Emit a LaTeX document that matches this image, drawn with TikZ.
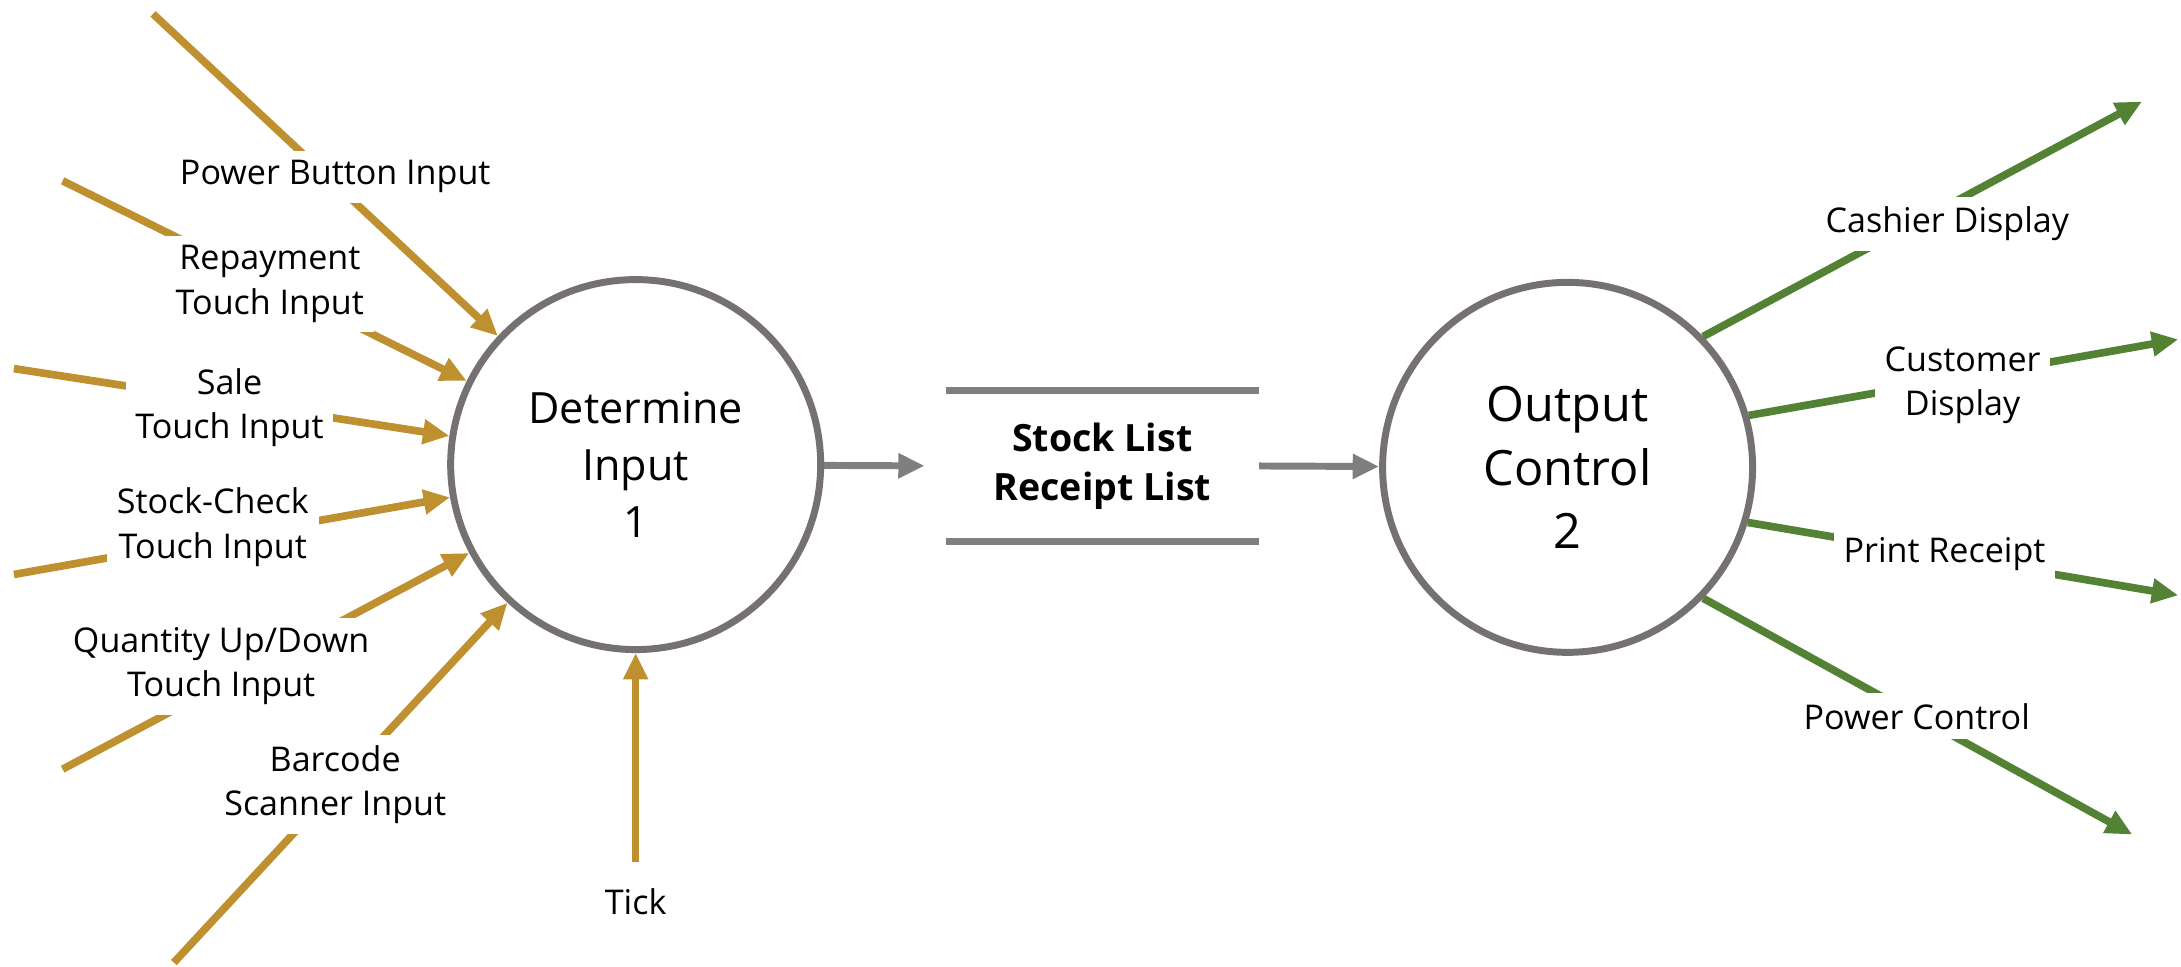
\documentclass[tikz,border=0pt]{standalone}
\usepackage{fontspec}
\setmainfont{Open Sans}
\usetikzlibrary{arrows.meta}
\definecolor{goldc}{HTML}{BF9030}
\definecolor{greenc}{HTML}{548235}
\definecolor{circc}{HTML}{767171}
\definecolor{storec}{HTML}{7F7F7F}
\tikzset{
  proc/.style={circle, draw=circc, line width=5pt, minimum size=266pt, inner sep=0pt, align=center},
  inarrow/.style={draw=goldc, line width=5.5pt, -{Triangle[length=19pt,width=17pt]}},
  outarrow/.style={draw=greenc, line width=5.5pt, -{Triangle[length=19pt,width=17pt]}},
  grayarrow/.style={draw=storec, line width=5pt, -{Triangle[length=19pt,width=17pt]}},
  lbl/.style={fill=white, inner sep=7pt, align=center, font=\fontsize{24.5}{32}\selectfont},
}
\begin{document}
\begin{tikzpicture}[x=1pt, y=-1pt]
\useasboundingbox (0,0) rectangle (1568,695);
% processes
\node[proc, font=\fontsize{31}{41}\selectfont] (c1) at (457,334) {Determine\\Input\\1};
\node[proc, font=\fontsize{35}{46}\selectfont] (c2) at (1127,336) {Output\\Control\\2};
% data store
\node[minimum width=225pt, minimum height=108pt, inner sep=0pt, align=center,
      font=\bfseries\fontsize{27}{35}\selectfont] (store) at (792.5,335) {Stock List\\Receipt List};
\draw[storec, line width=5pt] (store.north west) -- (store.north east);
\draw[storec, line width=5pt] (store.south west) -- (store.south east);
\draw[grayarrow, shorten >=15pt] (c1) -- (store.west);
\draw[grayarrow] (store.east) -- (c2);
% input sources
\coordinate (s1) at (110,10);
\coordinate (s2) at (45,130);
\coordinate (s3) at (10,265);
\coordinate (s4) at (10,413);
\coordinate (s5) at (45,553);
\coordinate (s6) at (125,692);
\coordinate (s7) at (457,620);
\draw[inarrow] (s1) -- (c1);
\draw[inarrow] (s2) -- (c1);
\draw[inarrow] (s3) -- (c1);
\draw[inarrow] (s4) -- (c1);
\draw[inarrow] (s5) -- (c1);
\draw[inarrow] (s6) -- (c1);
\draw[inarrow] (s7) -- (c1);
% output sinks
\coordinate (t1) at (1540,73);
\coordinate (t2) at (1566,244);
\coordinate (t3) at (1566,428);
\coordinate (t4) at (1533,600);
\draw[outarrow] (c2.44) -- (t1);
\draw[outarrow] (c2.16.7) -- (t2);
\draw[outarrow] (c2.-17) -- (t3);
\draw[outarrow] (c2.-44) -- (t4);
% labels
\node[lbl] (l1) at (241,127) {Power Button Input};
\node[lbl] (l2) at (194,204) {Repayment\\Touch Input};
\node[lbl] (l3) at (165,293) {Sale\\Touch Input};
\node[lbl] (l4) at (153,379) {Stock-Check\\Touch Input};
\node[lbl] (l5) at (159,479) {Quantity Up/Down\\Touch Input};
\node[lbl] (l6) at (241,564) {Barcode\\Scanner Input};
\node[lbl] (l7) at (457,648) {Tick};
\node[lbl] (o1) at (1400,161) {Cashier Display};
\node[lbl] (o2) at (1411,277) {Customer\\Display};
\node[lbl] (o3) at (1398,398) {Print Receipt};
\node[lbl] (o4) at (1378,515) {Power Control};
\end{tikzpicture}
\end{document}
